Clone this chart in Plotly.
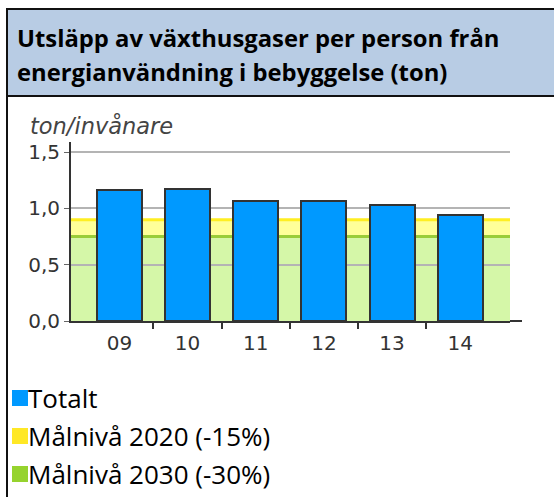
import plotly.graph_objects as go

# ---- data ----
categories = ["09", "10", "11", "12", "13", "14"]
totalt = [1.16, 1.17, 1.07, 1.07, 1.03, 0.94]
goal_2020 = 0.90
goal_2030 = 0.75
series_names = ["Totalt", "Målnivå 2020 (-15%)", "Målnivå 2030 (-30%)"]
y_ticks = [0.0, 0.5, 1.0, 1.5]
title_lines = ["Utsläpp av växthusgaser per person från",
               "energianvändning i bebyggelse (ton)"]
y_unit = "ton/invånare"

# ---- layout geometry (pixels) ----
FIG_W, FIG_H = 554, 497
L, R, T, B = 71, 510, 142, 321
W, H = R - L, B - T

def px(x):
    return (x - L) / W

def py(y):
    return (B - y) / H

BLUE = "#0099FF"
YELLOW_FILL = "#FFFF99"
YELLOW_LINE = "#FFEE22"
GREEN_FILL = "#D5F7A8"
GREEN_LINE = "#9ACD38"
DARK = "#333333"

xs = list(range(len(categories)))
fig = go.Figure()
fig.add_trace(go.Bar(
    x=xs, y=totalt, name=series_names[0], width=0.66,
    marker=dict(color=BLUE, line=dict(color=DARK, width=2)),
    showlegend=False,
))

shapes = []
# target areas (below gridlines)
shapes.append(dict(type="rect", xref="paper", yref="y", x0=0, x1=1, y0=goal_2030, y1=goal_2020,
                   fillcolor=YELLOW_FILL, line=dict(width=0), layer="below"))
shapes.append(dict(type="rect", xref="paper", yref="y", x0=0, x1=1, y0=0, y1=goal_2030,
                   fillcolor=GREEN_FILL, line=dict(width=0), layer="below"))
shapes.append(dict(type="line", xref="paper", yref="y", x0=0, x1=1, y0=goal_2020, y1=goal_2020,
                   line=dict(color=YELLOW_LINE, width=3), layer="below"))
shapes.append(dict(type="line", xref="paper", yref="y", x0=0, x1=1, y0=goal_2030, y1=goal_2030,
                   line=dict(color=GREEN_LINE, width=3), layer="below"))
# x axis extension
shapes.append(dict(type="line", xref="paper", yref="paper", x0=1, x1=px(522), y0=0, y1=0,
                   line=dict(color=DARK, width=2)))
# header box
shapes.append(dict(type="rect", xref="paper", yref="paper", x0=px(7), x1=px(570), y0=py(96), y1=py(9),
                   fillcolor="#B8CCE4", line=dict(color="#111111", width=2), layer="above"))
# left frame line
shapes.append(dict(type="line", xref="paper", yref="paper", x0=px(7), x1=px(7), y0=py(96), y1=py(505),
                   line=dict(color="#111111", width=2)))

# legend squares + labels
legend_colors = [BLUE, "#FFE826", "#96D32E"]
legend_y = [398, 436, 474]
annotations = []
for name, col, yc in zip(series_names, legend_colors, legend_y):
    shapes.append(dict(type="rect", xref="paper", yref="paper", x0=px(12), x1=px(28),
                       y0=py(yc + 8), y1=py(yc - 8), fillcolor=col, line=dict(width=0)))
    annotations.append(dict(xref="paper", yref="paper", x=px(26), y=py(yc), xanchor="left",
                            yanchor="middle", text=name, showarrow=False,
                            font=dict(family="Open Sans", size=26, color="#000000")))

# title
for line, yc in zip(title_lines, [38, 72]):
    annotations.append(dict(xref="paper", yref="paper", x=px(15), y=py(yc), xanchor="left",
                            yanchor="middle", text="<b>" + line + "</b>", showarrow=False,
                            font=dict(family="Open Sans", size=23.8, color="#000000")))

# y unit
annotations.append(dict(xref="paper", yref="paper", x=px(28), y=py(125), xanchor="left",
                        yanchor="middle", text="<i>" + y_unit + "</i>", showarrow=False,
                        font=dict(family="DejaVu Sans", size=22.5, color="#444444")))

fig.update_layout(
    width=FIG_W, height=FIG_H,
    margin=dict(l=L, r=FIG_W - R, t=T, b=FIG_H - B, pad=0),
    paper_bgcolor="white", plot_bgcolor="rgba(0,0,0,0)",
    separators=", ",
    shapes=shapes, annotations=annotations,
    showlegend=False,
    bargap=0,
)
fig.update_xaxes(
    range=[-0.71, len(categories) - 1 + 0.73],
    tickvals=xs, ticktext=categories, ticks="",
    showline=True, linecolor=DARK, linewidth=2,
    showgrid=False, zeroline=False,
    tickfont=dict(family="DejaVu Sans", size=20, color=DARK),
    ticklabelstandoff=3,
    minor=dict(tickvals=[i + 0.5 for i in xs[:-1]], ticks="outside", ticklen=6,
               tickwidth=2, tickcolor=DARK, showgrid=False),
    fixedrange=True,
)
fig.update_yaxes(
    range=[0, 1.59], tickvals=y_ticks, tickformat=".1f",
    ticks="outside", ticklen=5, tickcolor="#666666", tickwidth=1,
    showline=True, linecolor=DARK, linewidth=2,
    showgrid=True, gridcolor="#B4B4B4", gridwidth=2,
    zeroline=False,
    tickfont=dict(family="DejaVu Sans", size=20, color=DARK),
    fixedrange=True,
)

fig.write_html("out.html", config={"displayModeBar": False},
               post_script="document.body.style.margin='0';")
